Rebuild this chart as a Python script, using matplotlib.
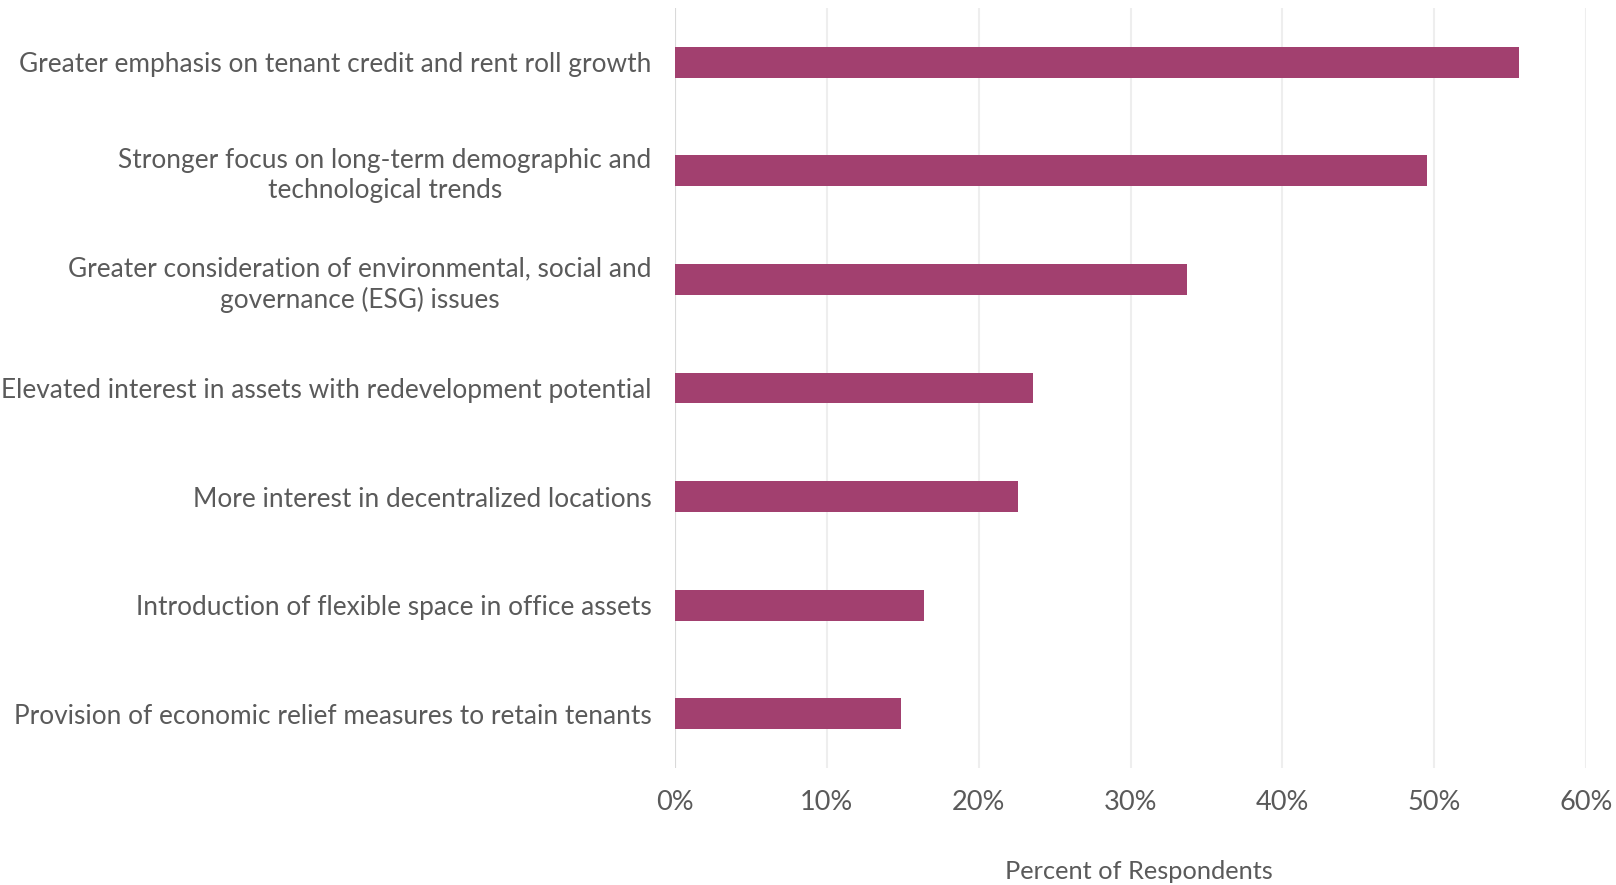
import matplotlib
matplotlib.use("Agg")
import matplotlib.pyplot as plt
from matplotlib.ticker import FuncFormatter, MultipleLocator

categories = [
    "Greater emphasis on tenant credit and rent roll growth",
    "Stronger focus on long-term demographic and\ntechnological trends",
    "Greater consideration of environmental, social and\ngovernance (ESG) issues",
    "Elevated interest in assets with redevelopment potential",
    "More interest in decentralized locations",
    "Introduction of flexible space in office assets",
    "Provision of economic relief measures to retain tenants",
]
share = [55.6, 49.5, 33.7, 23.6, 22.6, 16.4, 14.9]

bar_color = "#A2406F"
text_color = "#5A5A5A"

plt.rcParams["font.family"] = ["Lato", "DejaVu Sans"]

fig = plt.figure(figsize=(16.16, 8.85), dpi=100)
ax = fig.add_axes([675 / 1616, 1 - 768 / 885, (1586 - 675) / 1616, (768 - 8) / 885])

ypos = list(range(len(categories)))
ax.barh(ypos, share, height=0.285, color=bar_color, zorder=3)

ax.set_xlim(0, 60)
ax.set_ylim(len(categories) - 0.5, -0.5)
ax.xaxis.set_major_locator(MultipleLocator(10))
ax.xaxis.set_major_formatter(FuncFormatter(lambda v, _: f"{v:.0f}%"))
ax.grid(axis="x", color="#EEEEEE", linewidth=1.5, zorder=0)
ax.axvline(0, color="#D9D9D9", linewidth=1.5, zorder=2)

ax.set_yticks(ypos)
ax.set_yticklabels(categories, multialignment="center", linespacing=1.25)
ax.tick_params(axis="y", length=0, pad=17, labelsize=18.9, labelcolor=text_color)
ax.tick_params(axis="x", length=0, pad=16, labelsize=19.5, labelcolor=text_color)

for side in ["top", "right", "bottom", "left"]:
    ax.spines[side].set_visible(False)

# axis title sits a little right of centre, well below the tick labels
ax.set_xlabel("Percent of Respondents", fontsize=18.3, color=text_color,
              verticalalignment="center")
ax.xaxis.set_label_coords(0.509, -0.136)

fig.savefig("out.png", dpi=100, facecolor="white")
